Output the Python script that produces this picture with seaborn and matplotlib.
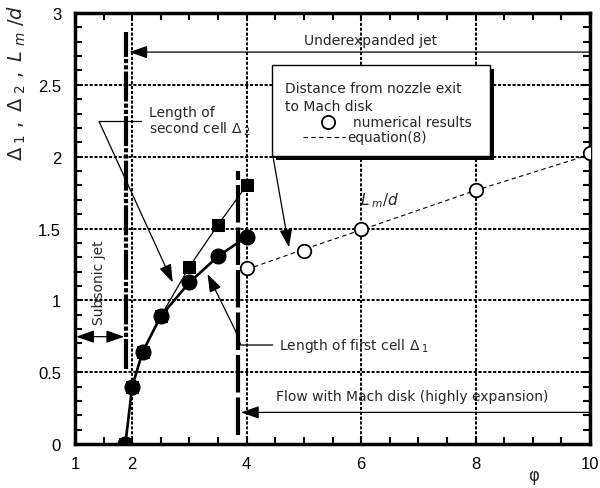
import numpy as np
import pandas as pd
import matplotlib
matplotlib.use("Agg")
import matplotlib.pyplot as plt
import seaborn as sns
from matplotlib.patches import Rectangle
from matplotlib import transforms

# ---- data ----
# length of first cell (filled circles)
phi_cell1 = [1.88, 2.0, 2.18, 2.5, 3.0, 3.5, 4.0]
delta1 = [0.0, 0.40, 0.64, 0.89, 1.125, 1.306, 1.443]
# length of second cell (filled squares)
phi_cell2 = [1.88, 2.0, 2.18, 2.5, 3.0, 3.5, 4.0]
delta2 = [0.0, 0.40, 0.64, 0.89, 1.234, 1.526, 1.80]
# distance from nozzle exit to Mach disk: numerical results
phi_mach = [4, 5, 6, 8, 10]
lm_num = [1.225, 1.345, 1.496, 1.77, 2.025]
# equation (8)
phi_eq = [4, 5, 6, 8, 10]
lm_eq = [1.215, 1.355, 1.49, 1.765, 2.015]

# flow-regime boundaries
phi_subsonic = 1.89
phi_machdisk = 3.84

x_ticks = [1, 2, 4, 6, 8, 10]
y_ticks = [0, 0.5, 1, 1.5, 2, 2.5, 3]
y_tick_labels = ["0", "0.5", "1", "1.5", "2", "2.5", "3"]

sns.set_theme(style="ticks")
plt.rcParams["font.family"] = ["DejaVu Sans"]
plt.rcParams["mathtext.fontset"] = "dejavusans"

TXT = dict(fontsize=10, family="DejaVu Sans")

fig = plt.figure(figsize=(6.0, 4.89), dpi=100)
ax = fig.add_axes([75 / 600, 44 / 489, 515 / 600, 431 / 489])
ax.set_xlim(1, 10)
ax.set_ylim(0, 3)

# grid
for gx in [2, 4, 6, 8]:
    ax.axvline(gx, color="black", lw=1.4, ls=(0, (1.6, 0.9)), zorder=1)
for gy in [0.5, 1, 1.5, 2, 2.5]:
    ax.axhline(gy, color="black", lw=1.4, ls=(0, (1.6, 0.9)), zorder=1)

# regime boundaries
ax.plot([phi_subsonic, phi_subsonic], [0.52, 2.87], color="black", lw=3,
        ls=(0, (7.2, 0.5, 1, 0.5, 1, 0.5)), solid_capstyle="butt", zorder=2)
ax.plot([phi_machdisk, phi_machdisk], [0.06, 1.90], color="black", lw=3,
        ls=(0, (9, 1.2)), solid_capstyle="butt", zorder=2)

df1 = pd.DataFrame({"phi": phi_cell1, "d": delta1})
df2 = pd.DataFrame({"phi": phi_cell2, "d": delta2})
dfm = pd.DataFrame({"phi": phi_mach, "d": lm_num})
dfe = pd.DataFrame({"phi": phi_eq, "d": lm_eq})

sns.lineplot(data=dfe, x="phi", y="d", ax=ax, color="black", lw=0.8,
             linestyle=(0, (4, 3)), sort=False, estimator=None, zorder=3)
sns.lineplot(data=df1, x="phi", y="d", ax=ax, color="black", lw=1.9,
             marker="o", markersize=10.8, markeredgecolor="black",
             sort=False, estimator=None, zorder=4)
sns.lineplot(data=df2, x="phi", y="d", ax=ax, color="black", lw=0.9,
             marker="s", markersize=8.8, markeredgecolor="black",
             sort=False, estimator=None, zorder=5)
sns.scatterplot(data=dfm, x="phi", y="d", ax=ax, marker="o", s=95,
                facecolor="white", edgecolor="black", linewidth=1.3, zorder=5)

# axes styling
for sp in ax.spines.values():
    sp.set_linewidth(2.5)
    sp.set_color("black")
ax.set_xticks(x_ticks)
ax.set_xticklabels([str(v) for v in x_ticks], family="Liberation Sans", fontsize=12)
ax.set_yticks(y_ticks)
ax.set_yticklabels(y_tick_labels, family="Liberation Sans", fontsize=12)
ax.xaxis.set_minor_locator(matplotlib.ticker.MultipleLocator(0.5))
ax.yaxis.set_minor_locator(matplotlib.ticker.MultipleLocator(0.1))
ax.tick_params(which="both", direction="in", top=True, right=True,
               length=5, width=1.5, color="black")
ax.tick_params(axis="x", which="major", labelcolor="black", pad=9)
ax.tick_params(axis="y", which="major", labelcolor="black", pad=10)
ax.set_xlabel("")
ax.set_ylabel("")

fig.text(9.02, 4 / 489, "φ",
         transform=transforms.blended_transform_factory(ax.transData, fig.transFigure),
         fontsize=12, ha="center", va="bottom")
fig.text(17 / 600, 1 - 83 / 489,
         r"$\Delta_{\ 1}\ ,\ \Delta_{\ 2}\ ,\ L_{\ m}\ /d$",
         rotation=90, fontsize=14, ha="center", va="center")

arrow_kw = dict(arrowstyle="-|>,head_length=1.0,head_width=0.35", color="black",
                lw=0.9, shrinkA=0, shrinkB=0, mutation_scale=11)

# underexpanded jet
ax.text(6.16, 2.81, "Underexpanded jet", ha="center", va="center", **TXT)
ax.annotate("", xy=(1.95, 2.728), xytext=(10, 2.728), arrowprops=arrow_kw, zorder=6)

# flow with Mach disk
ax.text(4.52, 0.336, "Flow with Mach disk (highly expansion)",
        ha="left", va="center", **TXT)
ax.annotate("", xy=(3.9, 0.22), xytext=(10, 0.22), arrowprops=arrow_kw, zorder=6)

# subsonic jet
ax.text(1.42, 1.13, "Subsonic jet", rotation=90, ha="center", va="center", **TXT)
ax.annotate("", xy=(1.02, 0.747), xytext=(1.86, 0.747),
            arrowprops=dict(arrowstyle="<|-|>,head_length=1.0,head_width=0.35",
                            color="black", lw=0.9, shrinkA=0, shrinkB=0,
                            mutation_scale=11), zorder=6)

# length of second cell
ax.text(2.3, 2.245, "Length of\nsecond cell " + r"$\Delta_{\ 2}$",
        ha="left", va="center", linespacing=1.05, **TXT)
ax.plot([1.42, 2.15], [2.245, 2.245], color="black", lw=0.9, zorder=6)
ax.annotate("", xy=(2.707, 1.125), xytext=(1.42, 2.245), arrowprops=arrow_kw, zorder=6)

# length of first cell
ax.text(4.56, 0.689, "Length of first cell " + r"$\Delta_{\ 1}$",
        ha="left", va="center", **TXT)
ax.plot([4.456, 3.895, 3.807], [0.689, 0.689, 0.786], color="black", lw=0.9, zorder=6)
ax.annotate("", xy=(3.316, 1.183), xytext=(3.807, 0.786), arrowprops=arrow_kw, zorder=6)

# L_m/d label
ax.text(6.33, 1.70, r"$L_{\ m}/d$", fontsize=11, ha="center", va="center")

# legend box with drop shadow
bx0, bx1, by0, by1 = 4.45, 8.25, 2.006, 2.64
shadow = Rectangle((bx0, by0), bx1 - bx0, by1 - by0, facecolor="black", edgecolor="none",
                   transform=ax.transData + transforms.ScaledTranslation(4 / 100, -4 / 100, fig.dpi_scale_trans),
                   zorder=7)
ax.add_patch(shadow)
ax.add_patch(Rectangle((bx0, by0), bx1 - bx0, by1 - by0, facecolor="white",
                       edgecolor="black", lw=1.0, zorder=8))
ax.text(4.67, 2.475, "Distance from nozzle exit", ha="left", va="center", zorder=9, **TXT)
ax.text(4.67, 2.355, "to Mach disk", ha="left", va="center", zorder=9, **TXT)
ax.plot([5.42], [2.24], marker="o", ms=9.5, mfc="white", mec="black", mew=1.3, zorder=9)
ax.text(5.85, 2.24, "numerical results", ha="left", va="center", zorder=9,
        fontsize=9.8, family="DejaVu Sans")
ax.plot([4.98, 5.72], [2.14, 2.14], color="black", lw=0.8, ls=(0, (4, 3)), zorder=9)
ax.text(5.75, 2.14, "equation(8)", ha="left", va="center", zorder=9,
        fontsize=9.8, family="DejaVu Sans")
ax.annotate("", xy=(4.74, 1.369), xytext=(4.46, 2.0), arrowprops=arrow_kw, zorder=6)

fig.savefig("out.png", dpi=100)
